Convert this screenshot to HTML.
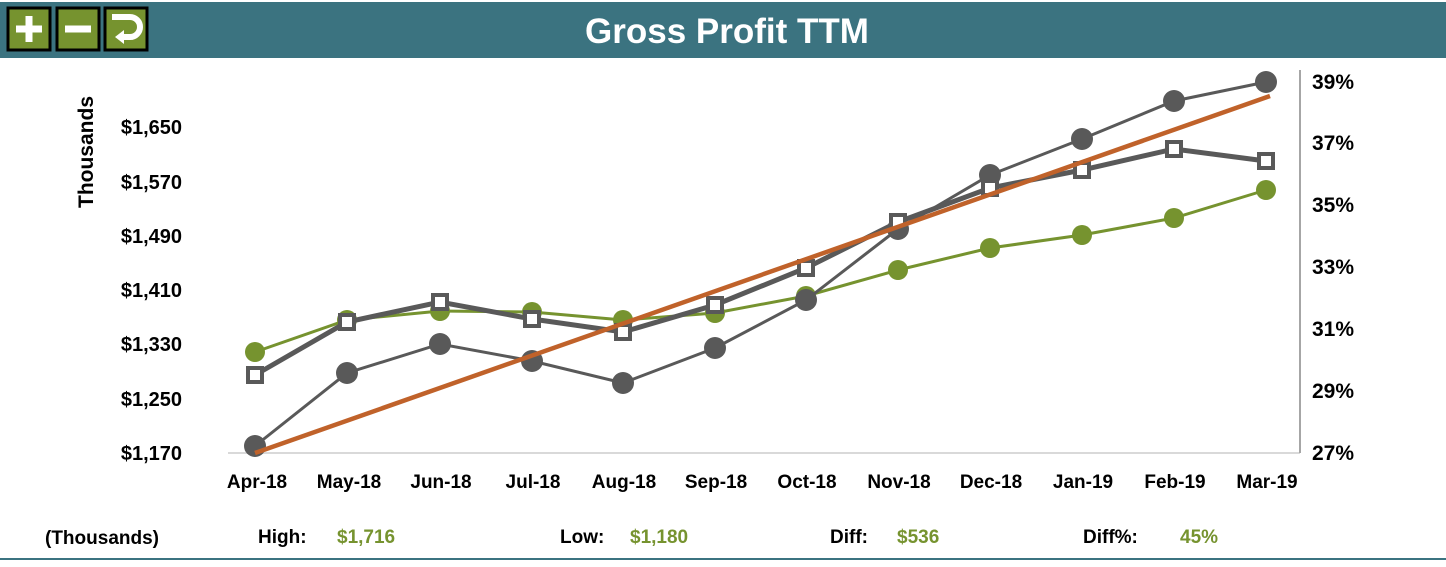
<!DOCTYPE html><html><head><style>
body{margin:0;width:1446px;height:562px;background:#fff;overflow:hidden;font-family:"Liberation Sans",sans-serif}
</style></head><body>
<svg width="1446" height="562" xmlns="http://www.w3.org/2000/svg" font-family="Liberation Sans, sans-serif" font-weight="bold">
<rect x="0" y="2" width="1446" height="56" fill="#3b7380"/>
<text x="727" y="43" fill="#fff" font-size="35" text-anchor="middle">Gross Profit TTM</text>
<g stroke="#000" stroke-width="3" fill="#76932f">
<rect x="8" y="8" width="42" height="42"/><rect x="57" y="8" width="42" height="42"/><rect x="105" y="8" width="42" height="42"/></g>
<path d="M29 16v26M16 29h26" stroke="#fff" stroke-width="7"/>
<path d="M65 29h26" stroke="#fff" stroke-width="7"/>
<path d="M112 17h18a10 10 0 0 1 0 20h-8" stroke="#fff" stroke-width="6" fill="none"/>
<path d="M124 30l-9 7l9 7z" fill="#fff"/>
<line x1="228" y1="453" x2="1300" y2="453" stroke="#d9d9d9" stroke-width="2"/>
<line x1="1300" y1="70" x2="1300" y2="453" stroke="#a6a6a6" stroke-width="2"/>
<g font-size="20" text-anchor="end" fill="#000">
<text x="182" y="460">$1,170</text><text x="182" y="406">$1,250</text><text x="182" y="351">$1,330</text><text x="182" y="297">$1,410</text><text x="182" y="243">$1,490</text><text x="182" y="189">$1,570</text><text x="182" y="134">$1,650</text></g>
<text transform="translate(93,152) rotate(-90)" font-size="21" text-anchor="middle">Thousands</text>
<g font-size="21" fill="#000">
<text x="1312" y="460">27%</text><text x="1312" y="398">29%</text><text x="1312" y="336">31%</text><text x="1312" y="274">33%</text><text x="1312" y="212">35%</text><text x="1312" y="150">37%</text><text x="1312" y="89">39%</text></g>
<g font-size="19" text-anchor="middle" fill="#000">
<text x="257" y="488">Apr-18</text><text x="349" y="488">May-18</text><text x="441" y="488">Jun-18</text><text x="533" y="488">Jul-18</text><text x="624" y="488">Aug-18</text><text x="716" y="488">Sep-18</text><text x="807" y="488">Oct-18</text><text x="899" y="488">Nov-18</text><text x="991" y="488">Dec-18</text><text x="1083" y="488">Jan-19</text><text x="1175" y="488">Feb-19</text><text x="1267" y="488">Mar-19</text></g>
<g fill="#76932f"><polyline fill="none" stroke="#76932f" stroke-width="3" points="255,352 347,320 440,311 532,312 623,320 715,313 806,296 898,270 990,248 1082,235 1174,218 1266,190"/>
<circle cx="255" cy="352" r="10"/><circle cx="347" cy="320" r="10"/><circle cx="440" cy="311" r="10"/><circle cx="532" cy="312" r="10"/><circle cx="623" cy="320" r="10"/><circle cx="715" cy="313" r="10"/><circle cx="806" cy="296" r="10"/><circle cx="898" cy="270" r="10"/><circle cx="990" cy="248" r="10"/><circle cx="1082" cy="235" r="10"/><circle cx="1174" cy="218" r="10"/><circle cx="1266" cy="190" r="10"/></g>
<g fill="#595959"><polyline fill="none" stroke="#595959" stroke-width="3" points="255,446 347,373 440,344 532,361 623,383 715,348 806,300 898,229 990,175 1082,139 1174,101 1266,82"/>
<circle cx="255" cy="446" r="11"/><circle cx="347" cy="373" r="11"/><circle cx="440" cy="344" r="11"/><circle cx="532" cy="361" r="11"/><circle cx="623" cy="383" r="11"/><circle cx="715" cy="348" r="11"/><circle cx="806" cy="300" r="11"/><circle cx="898" cy="229" r="11"/><circle cx="990" cy="175" r="11"/><circle cx="1082" cy="139" r="11"/><circle cx="1174" cy="101" r="11"/><circle cx="1266" cy="82" r="11"/></g>
<polyline fill="none" stroke="#595959" stroke-width="5" points="255,375 347,322 440,302 532,319 623,332 715,305 806,268 898,222 990,188 1082,170 1174,149 1266,161"/>
<g fill="#fff" stroke="#595959" stroke-width="4">
<rect x="248" y="368" width="14" height="14"/><rect x="340" y="315" width="14" height="14"/><rect x="433" y="295" width="14" height="14"/><rect x="525" y="312" width="14" height="14"/><rect x="616" y="325" width="14" height="14"/><rect x="708" y="298" width="14" height="14"/><rect x="799" y="261" width="14" height="14"/><rect x="891" y="215" width="14" height="14"/><rect x="983" y="181" width="14" height="14"/><rect x="1075" y="163" width="14" height="14"/><rect x="1167" y="142" width="14" height="14"/><rect x="1259" y="154" width="14" height="14"/></g>
<line x1="255" y1="453" x2="1270" y2="96" stroke="#c0622a" stroke-width="4.5"/>
<g font-size="19">
<text x="45" y="544" fill="#000">(Thousands)</text>
<text x="258" y="543" fill="#000">High:</text><text x="337" y="543" fill="#76932f">$1,716</text>
<text x="560" y="543" fill="#000">Low:</text><text x="630" y="543" fill="#76932f">$1,180</text>
<text x="830" y="543" fill="#000">Diff:</text><text x="897" y="543" fill="#76932f">$536</text>
<text x="1083" y="543" fill="#000">Diff%:</text><text x="1180" y="543" fill="#76932f">45%</text></g>
<line x1="0" y1="559" x2="1446" y2="559" stroke="#3b7380" stroke-width="2"/>
</svg></body></html>
